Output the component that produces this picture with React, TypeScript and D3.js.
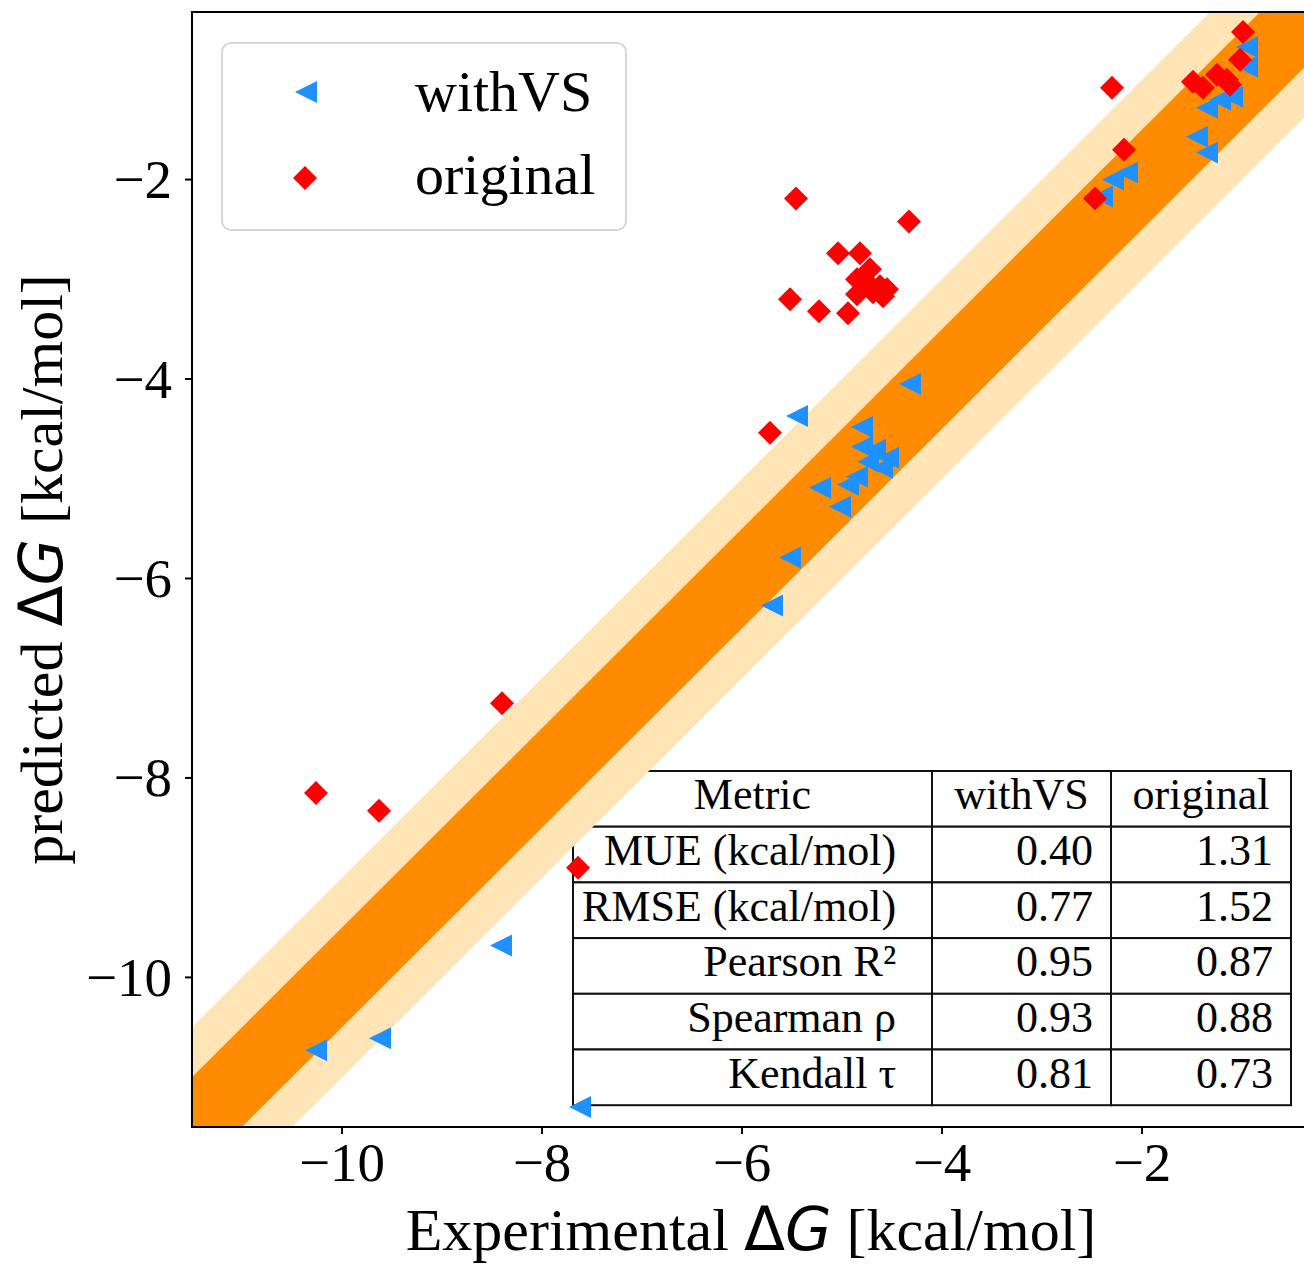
import React from 'react';
import * as d3 from 'd3';

// axis limits (same on both axes)
const axisMin = -11.5;
const axisMax = -0.32;
const tickValues = [-10, -8, -6, -4, -2];

// [experimental, predicted] for each ligand
const withVS: [number, number][] = [
  [-0.95, -0.67], [-0.95, -0.87], [-1.10, -1.17], [-1.22, -1.20], [-1.35, -1.28],
  [-1.45, -1.57], [-1.35, -1.73], [-2.15, -1.93], [-2.29, -2.00], [-2.40, -2.17],
  [-4.32, -4.05], [-5.45, -4.37], [-4.80, -4.48], [-4.80, -4.68], [-4.67, -4.71],
  [-4.54, -4.79], [-4.74, -4.83], [-4.60, -4.89], [-4.85, -4.98], [-4.94, -5.06],
  [-5.22, -5.09], [-5.02, -5.28], [-5.52, -5.79], [-5.70, -6.27],
  [-8.41, -9.68], [-10.26, -10.73], [-9.62, -10.61], [-7.62, -11.30],
];

const original: [number, number][] = [
  [-0.99, -0.52], [-1.02, -0.80], [-2.30, -1.08], [-2.18, -1.70], [-2.47, -2.19],
  [-1.49, -1.02], [-1.39, -1.08], [-1.25, -0.95], [-1.15, -1.00], [-1.12, -1.05],
  [-5.46, -2.19], [-4.33, -2.42], [-5.04, -2.74], [-4.82, -2.74], [-4.72, -2.90],
  [-4.85, -3.00], [-4.75, -3.03], [-4.62, -3.07], [-4.55, -3.10], [-4.69, -3.13],
  [-4.85, -3.15], [-4.59, -3.17], [-5.52, -3.20], [-5.23, -3.32], [-4.94, -3.34],
  [-5.72, -4.54], [-8.40, -7.25], [-10.26, -8.15], [-9.63, -8.33], [-7.64, -8.90],
];

// error bands around the diagonal (kcal/mol)
const innerBand = 0.5;
const outerBand = 1.0;

const tableHeader = ['Metric', 'withVS', 'original'];
const metricNames = ['MUE (kcal/mol)', 'RMSE (kcal/mol)', 'Pearson R²', 'Spearman ρ', 'Kendall τ'];
const withVSValues = ['0.40', '0.77', '0.95', '0.93', '0.81'];
const originalValues = ['1.31', '1.52', '0.87', '0.88', '0.73'];

const seriesNames = ['withVS', 'original'];

const BLUE = '#1E90FF';
const RED = '#FF0000';
const DARK_ORANGE = '#FF8C00';
const LIGHT_ORANGE = '#FFE4B5';
const SERIF = '"Liberation Serif", "Times New Roman", serif';

const W = 1304;
const H = 1265;
const plot = { left: 192, right: 1310, top: 12, bottom: 1127 };

const triangle = (s: number) => `M${-s},0L${s},${-s}L${s},${s}Z`;
const diamond = (s: number) => `M0,${-s}L${s},0L0,${s}L${-s},0Z`;

const App = () => {
  const x = d3.scaleLinear().domain([axisMin, axisMax]).range([plot.left, plot.right]);
  const y = d3.scaleLinear().domain([axisMin, axisMax]).range([plot.bottom, plot.top]);

  const diag = [axisMin - 1, axisMax + 1];
  const band = (d: number) =>
    d3
      .area<number>()
      .x((v) => x(v))
      .y0((v) => y(v - d))
      .y1((v) => y(v + d))(diag) as string;

  // table layout
  const tbl = { left: 573, top: 771, rowH: 55.7, colW: [359, 179, 180] };
  const colX = [tbl.left, tbl.left + tbl.colW[0], tbl.left + tbl.colW[0] + tbl.colW[1]];
  const rows = [tableHeader, ...metricNames.map((m, i) => [m, withVSValues[i], originalValues[i]])];

  return (
    <svg width={W} height={H} style={{ position: 'absolute', left: 0, top: 0, background: '#fff' }}>
      <defs>
        <clipPath id="plotclip">
          <rect x={plot.left} y={plot.top} width={plot.right - plot.left} height={plot.bottom - plot.top} />
        </clipPath>
      </defs>

      {/* table */}
      <g fontFamily={SERIF} fontSize={44} fill="#000">
        {rows.map((row, r) =>
          row.map((cell, c) => {
            const cx = colX[c];
            const cy = tbl.top + r * tbl.rowH;
            const w = tbl.colW[c];
            const header = r === 0;
            return (
              <g key={`${r}-${c}`}>
                <rect x={cx} y={cy} width={w} height={tbl.rowH} fill="#fff" stroke="#111" strokeWidth={2} />
                <text
                  x={header ? cx + w / 2 : cx + w * 0.9}
                  y={cy + tbl.rowH / 2 - 4}
                  textAnchor={header ? 'middle' : 'end'}
                  dominantBaseline="central"
                >
                  {cell}
                </text>
              </g>
            );
          })
        )}
      </g>

      {/* bands */}
      <g clipPath="url(#plotclip)">
        <path d={band(outerBand)} fill={LIGHT_ORANGE} />
        <path d={band(innerBand)} fill={DARK_ORANGE} />
      </g>

      {/* points */}
      <g clipPath="url(#plotclip)">
        {withVS.map(([a, b], i) => (
          <path key={`b${i}`} d={triangle(11)} transform={`translate(${x(a)},${y(b)})`} fill={BLUE} />
        ))}
        {original.map(([a, b], i) => (
          <path key={`r${i}`} d={diamond(12)} transform={`translate(${x(a)},${y(b)})`} fill={RED} />
        ))}
      </g>

      {/* frame */}
      <rect
        x={plot.left}
        y={plot.top}
        width={plot.right - plot.left}
        height={plot.bottom - plot.top}
        fill="none"
        stroke="#000"
        strokeWidth={2}
      />

      {/* ticks */}
      <g fontFamily={SERIF} fontSize={55}>
        {tickValues.map((t) => (
          <g key={`xt${t}`}>
            <line x1={x(t)} x2={x(t)} y1={plot.bottom} y2={plot.bottom + 7} stroke="#000" strokeWidth={2} />
            <text x={x(t)} y={plot.bottom + 54} textAnchor="middle">
              {'\u2212' + Math.abs(t)}
            </text>
          </g>
        ))}
        {tickValues.map((t) => (
          <g key={`yt${t}`}>
            <line x1={plot.left - 7} x2={plot.left} y1={y(t)} y2={y(t)} stroke="#000" strokeWidth={2} />
            <text x={plot.left - 20} y={y(t)} textAnchor="end" dominantBaseline="central">
              {'\u2212' + Math.abs(t)}
            </text>
          </g>
        ))}
      </g>

      {/* axis labels */}
      <text x={(plot.left + plot.right) / 2} y={1250} textAnchor="middle" fontFamily={SERIF} fontSize={60}>
        Experimental{' '}
        <tspan fontFamily="DejaVu Sans">Δ</tspan>
        <tspan fontFamily="DejaVu Sans" fontStyle="italic">G</tspan> [kcal/mol]
      </text>
      <text
        transform={`translate(62,${(plot.top + plot.bottom) / 2}) rotate(-90)`}
        textAnchor="middle"
        fontFamily={SERIF}
        fontSize={60}
      >
        predicted{' '}
        <tspan fontFamily="DejaVu Sans">Δ</tspan>
        <tspan fontFamily="DejaVu Sans" fontStyle="italic">G</tspan> [kcal/mol]
      </text>

      {/* legend */}
      <g>
        <rect x={222} y={43} width={404} height={187} rx={9} fill="#fff" fillOpacity={0.8} stroke="#d6d6d6" strokeWidth={2} />
        <path d={triangle(11)} transform="translate(306,92)" fill={BLUE} />
        <path d={diamond(12)} transform="translate(305,178)" fill={RED} />
        <text x={415} y={111} fontFamily={SERIF} fontSize={58}>
          {seriesNames[0]}
        </text>
        <text x={415} y={194} fontFamily={SERIF} fontSize={58}>
          {seriesNames[1]}
        </text>
      </g>
    </svg>
  );
};

export default App;
